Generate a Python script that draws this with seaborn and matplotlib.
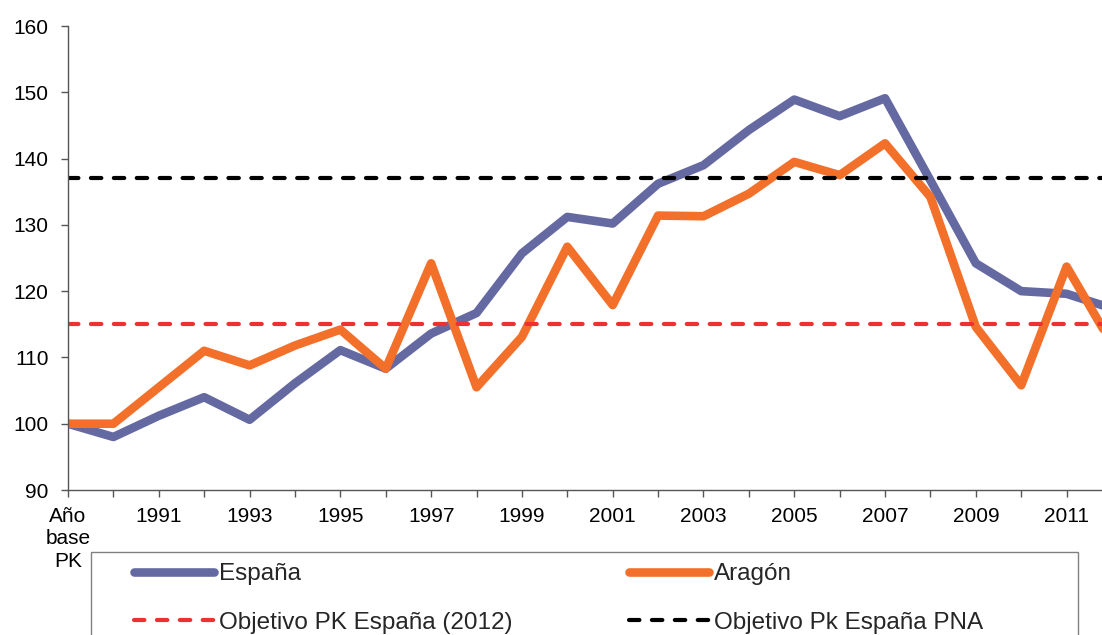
import matplotlib
matplotlib.use("Agg")
import matplotlib.pyplot as plt
from matplotlib.patches import Rectangle
import seaborn as sns
import pandas as pd

# x categories: base year of the Kyoto Protocol, then 1990..2012
periodos = ["Año\nbase\nPK", "1990", "1991", "1992", "1993", "1994", "1995",
            "1996", "1997", "1998", "1999", "2000", "2001", "2002", "2003",
            "2004", "2005", "2006", "2007", "2008", "2009", "2010", "2011", "2012"]

# emissions index (base year = 100)
espana = [100.0, 98.0, 101.2, 104.0, 100.6, 106.1, 111.1, 108.3, 113.6, 116.7,
          125.7, 131.2, 130.2, 136.2, 139.0, 144.3, 148.9, 146.4, 149.1, 136.7,
          124.2, 120.0, 119.6, 117.4]
aragon = [100.0, 100.0, 105.5, 111.0, 108.8, 111.8, 114.2, 108.3, 124.2, 105.5,
          113.1, 126.7, 117.9, 131.4, 131.3, 134.7, 139.5, 137.5, 142.3, 134.2,
          114.6, 105.8, 123.7, 112.0]

# targets
objetivo_pk = 115
objetivo_pna = 137

series = ["España", "Aragón"]
colores = {"España": "#6569A1", "Aragón": "#F3702B"}

n = len(periodos)
df = pd.DataFrame({
    "periodo": periodos * 2,
    "valor": espana + aragon,
    "serie": [series[0]] * n + [series[1]] * n,
})

sns.set_style("ticks")
plt.rcParams["font.family"] = ["Liberation Sans", "DejaVu Sans"]

fig = plt.figure(figsize=(11.02, 6.35), dpi=100)
ax = fig.add_axes([68 / 1102, 1 - 490 / 635, 1044 / 1102, 464 / 635])

sns.lineplot(data=df, x="periodo", y="valor", hue="serie", palette=colores,
             linewidth=6.2, sort=False, legend=False, ax=ax)
for ln in ax.lines:
    ln.set_solid_joinstyle("round")
    ln.set_solid_capstyle("round")

ax.axhline(objetivo_pk, color="#EE3030", lw=3, dashes=(2.5, 3.0),
           dash_capstyle="round", label="Objetivo PK España (2012)")
ax.axhline(objetivo_pna, color="black", lw=3, dashes=(2.5, 3.0),
           dash_capstyle="round", label="Objetivo Pk España PNA")

ax.set_xlim(0, n - 1)
ax.set_ylim(90, 160)
ax.set_yticks(range(90, 161, 10))
ax.set_xticks(range(n))
ax.set_xticklabels([p if i % 2 == 0 else "" for i, p in enumerate(periodos)],
                   linespacing=1.25)
ax.set_xlabel("")
ax.set_ylabel("")
ax.tick_params(axis="both", labelsize=15, length=5, width=1, color="#555555",
               labelcolor="black")
ax.tick_params(axis="y", pad=9)
ax.tick_params(axis="x", pad=7)
sns.despine(ax=ax)
for s in ["left", "bottom"]:
    ax.spines[s].set_color("#555555")
    ax.spines[s].set_linewidth(1)

# legend: two columns, row-major order like the original
h = ax.lines
handles = [h[0], h[2], h[1], h[3]]
labels = ["España", "Objetivo PK España (2012)", "Aragón", "Objetivo Pk España PNA"]
leg = fig.legend(handles, labels, ncol=2, loc="upper left",
                 bbox_to_anchor=(134 / 1102, 1 - 563 / 635), frameon=False,
                 fontsize=17.5, handlelength=3.3, handletextpad=0.2,
                 columnspacing=4.8, labelspacing=1.1, borderpad=0,
                 borderaxespad=0)
fig.patches.append(Rectangle((91 / 1102, -0.2), 987 / 1102, 0.2 + 1 - 552 / 635,
                             transform=fig.transFigure, fill=False,
                             edgecolor="#808080", lw=1))

fig.savefig("out.png", dpi=100)
